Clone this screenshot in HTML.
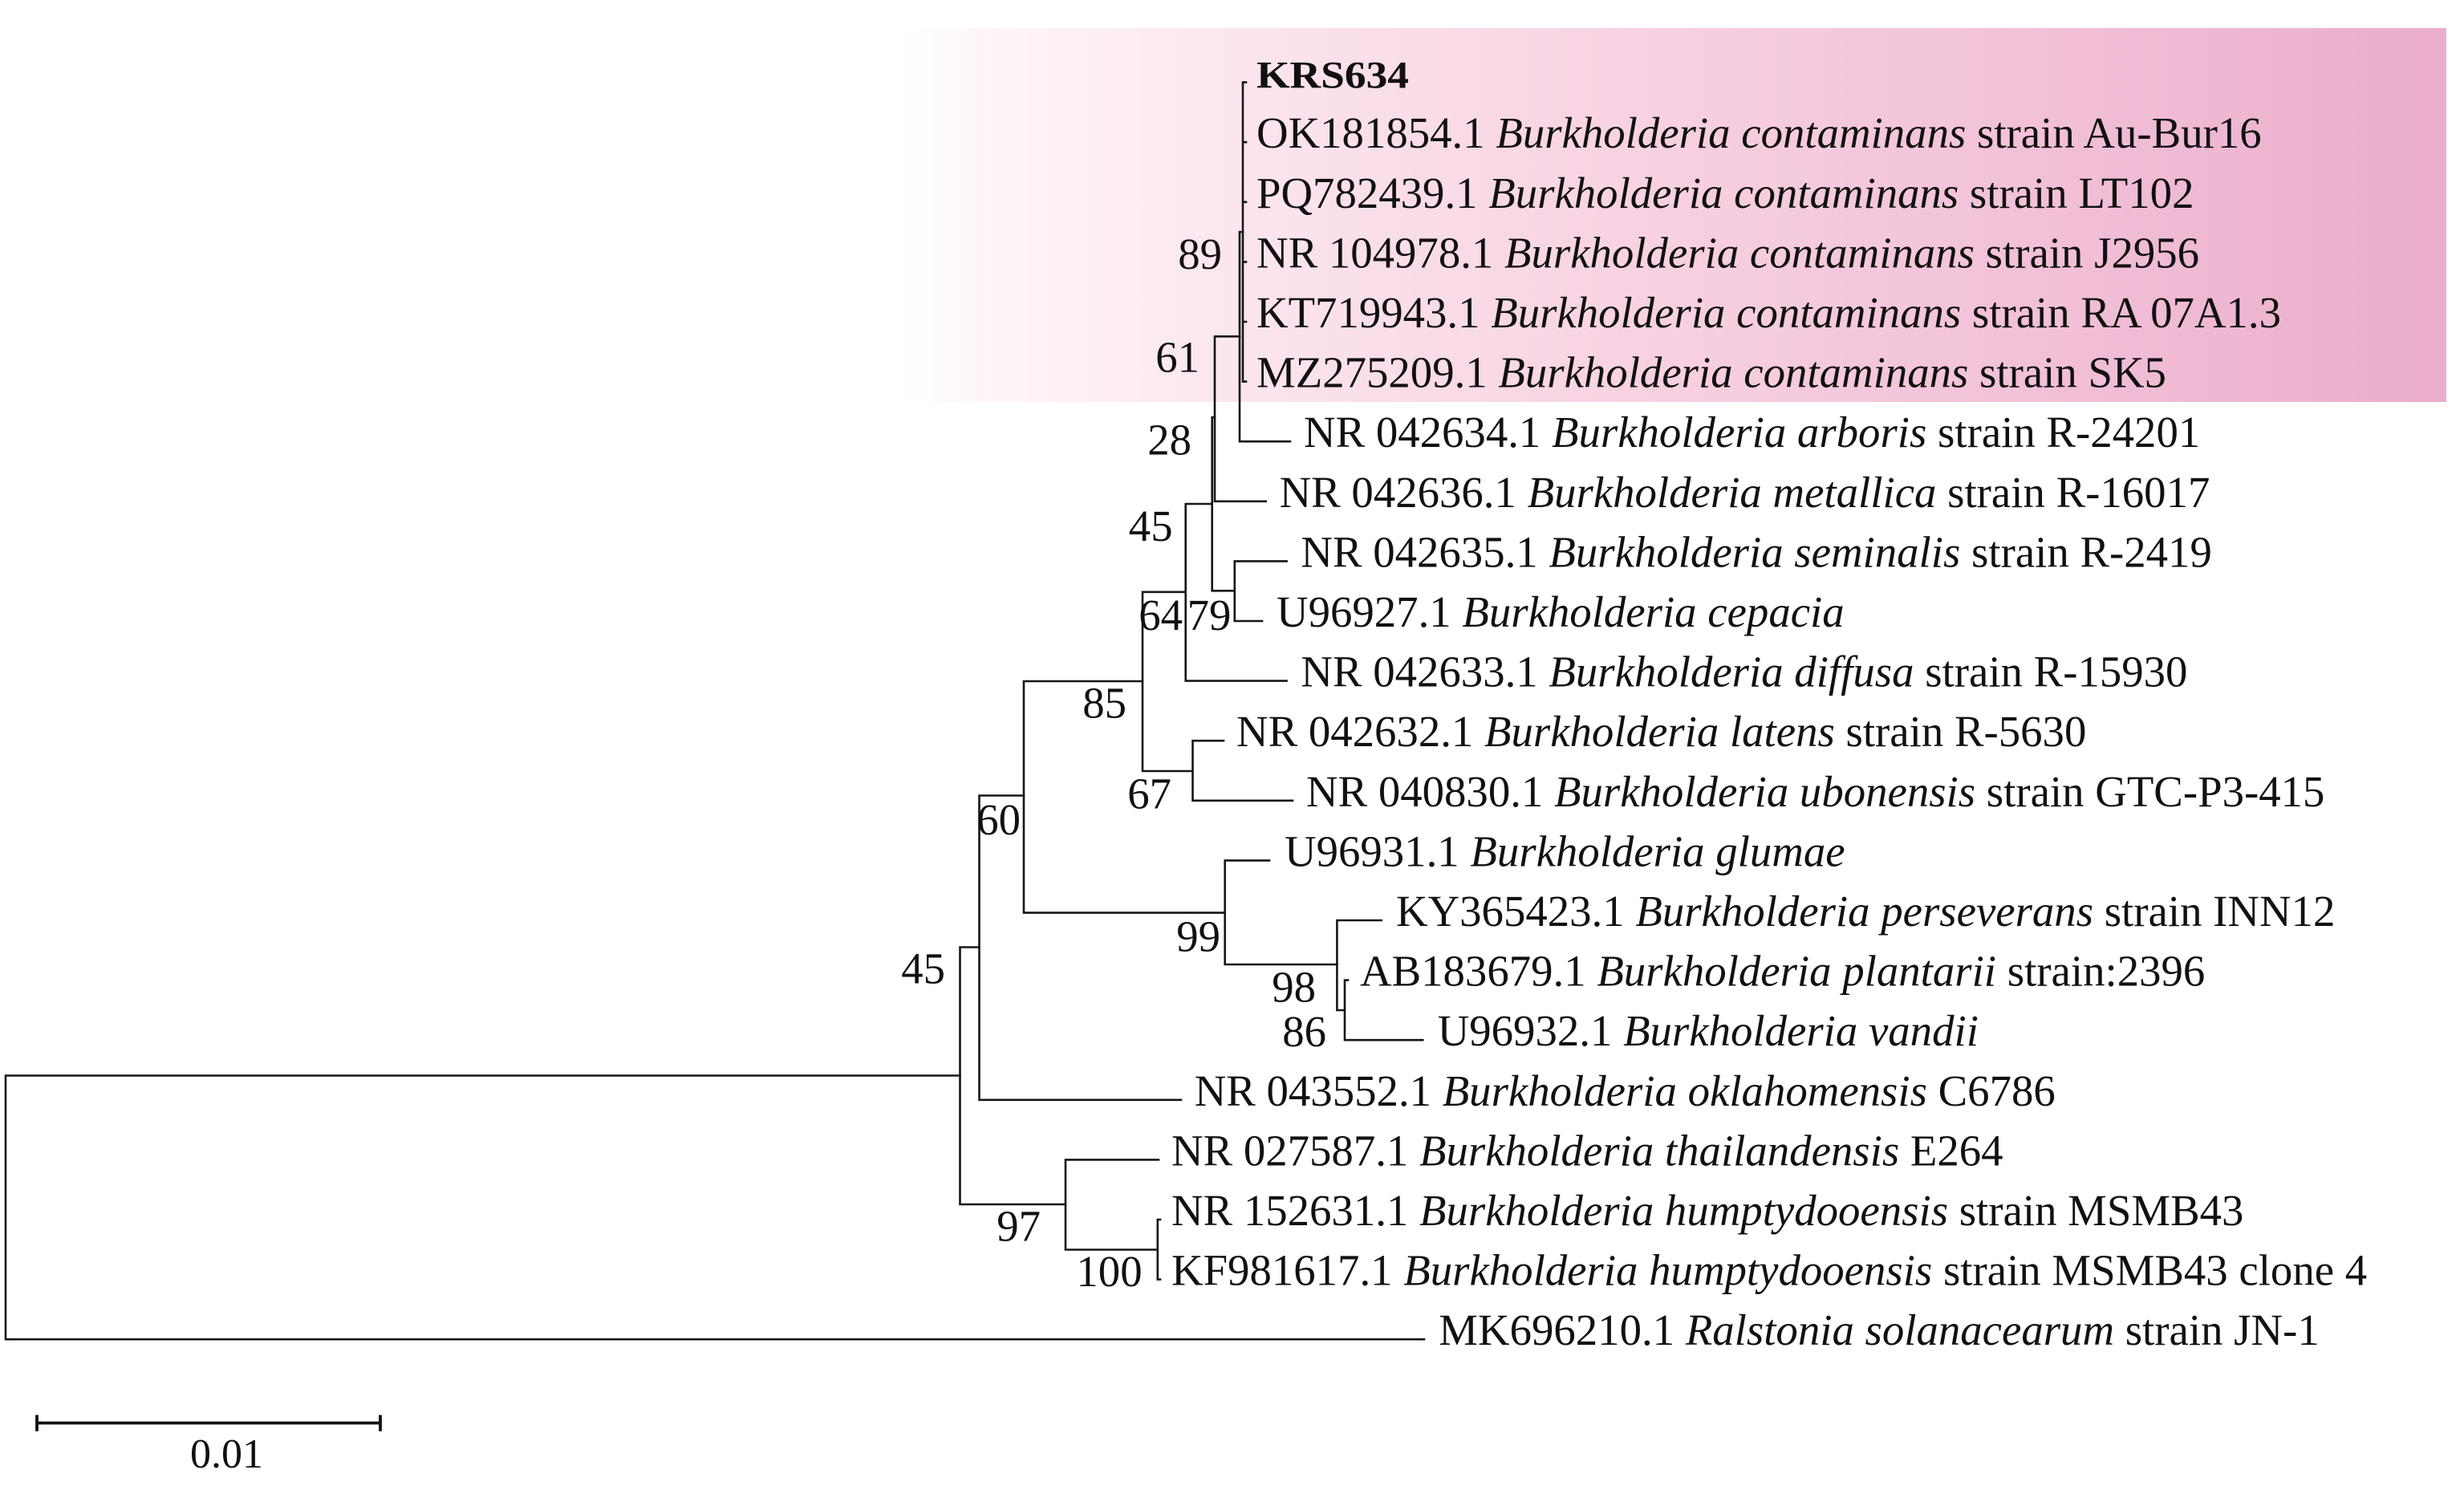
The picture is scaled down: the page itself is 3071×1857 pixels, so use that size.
<!DOCTYPE html>
<html>
<head>
<meta charset="utf-8">
<style>
html,body{margin:0;padding:0;background:#fff;}
svg{display:block;}
text{font-family:"Liberation Serif","Times New Roman",serif;fill:#111;}
.l{font-size:54.8px;}
.b{font-size:54.8px;text-anchor:end;}
.i{font-style:italic;}
</style>
</head>
<body>
<svg width="3071" height="1857" viewBox="0 0 3071 1857" xmlns="http://www.w3.org/2000/svg">
<defs>
<linearGradient id="pg" gradientUnits="userSpaceOnUse" x1="1120" y1="0" x2="3049" y2="0">
<stop offset="0" stop-color="#ffffff"/>
<stop offset="0.06" stop-color="#fef5f8"/>
<stop offset="0.22" stop-color="#fce5ee"/>
<stop offset="0.5" stop-color="#f7d0e1"/>
<stop offset="0.8" stop-color="#f0bcd5"/>
<stop offset="1" stop-color="#eaadcb"/>
</linearGradient>
</defs>
<rect x="1120" y="35" width="1929" height="466" fill="url(#pg)"/>

<g stroke="#161616" stroke-width="2.6" fill="none" stroke-linecap="square">
<path d="M7 1340.5V1669.2M7 1340.5H1196.5M7 1669.2H1775"/>
<path d="M1196.5 1180.5V1501M1196.5 1180.5H1220.5M1196.5 1501H1328"/>
<path d="M1220.5 991.5V1370.8M1220.5 1370.8H1472M1220.5 991.5H1276"/>
<path d="M1276 849V1137.6M1276 849H1424M1276 1137.6H1526.7"/>
<path d="M1424 737.8V961M1424 737.8H1477.7M1424 961H1486.5"/>
<path d="M1486.5 923.2V997.8M1486.5 923.2H1525M1486.5 997.8H1611"/>
<path d="M1477.7 628V848.6M1477.7 848.6H1603.6M1477.7 628H1510.7"/>
<path d="M1510.7 520V736.3M1510.7 520H1514M1510.7 736.3H1538.8"/>
<path d="M1538.8 699.4V774M1538.8 699.4H1603.6M1538.8 774H1573"/>
<path d="M1514 419.3V624.8M1514 624.8H1577.7M1514 419.3H1545"/>
<path d="M1545 289V550.2M1545 550.2H1608M1545 289H1549"/>
<path d="M1549 102.6V475.6M1549 102.6H1553M1549 177.2H1553M1549 251.8H1553M1549 326.4H1553M1549 401H1553M1549 475.6H1553"/>
<path d="M1526.7 1072.4V1202M1526.7 1072.4H1582M1526.7 1202H1666.4"/>
<path d="M1666.4 1147V1259M1666.4 1147H1721.7M1666.4 1259H1676"/>
<path d="M1676 1221.6V1296.2M1676 1221.6H1680M1676 1296.2H1773.3"/>
<path d="M1328 1445.4V1557.5M1328 1445.4H1444M1328 1557.5H1442.8"/>
<path d="M1442.8 1520V1594.6M1442.8 1520H1446M1442.8 1594.6H1446"/>
</g>

<g stroke="#111" stroke-width="3.8" fill="none">
<path d="M46 1773.5H474M46 1763.5V1783.8M474 1763.5V1783.8"/>
</g>
<text x="237" y="1829" style="font-size:52px">0.01</text>

<text x="1566" y="109.3" style="font-size:48px;font-weight:bold" textLength="190" lengthAdjust="spacingAndGlyphs">KRS634</text>
<text class="l" x="1566" y="184.2">OK181854.1 <tspan class="i">Burkholderia contaminans</tspan> strain Au-Bur16</text>
<text class="l" x="1566" y="258.8">PQ782439.1 <tspan class="i">Burkholderia contaminans</tspan> strain LT102</text>
<text class="l" x="1566" y="333.4">NR 104978.1 <tspan class="i">Burkholderia contaminans</tspan> strain J2956</text>
<text class="l" x="1566" y="408">KT719943.1 <tspan class="i">Burkholderia contaminans</tspan> strain RA 07A1.3</text>
<text class="l" x="1566" y="482.6">MZ275209.1 <tspan class="i">Burkholderia contaminans</tspan> strain SK5</text>
<text class="l" x="1625" y="557.2">NR 042634.1 <tspan class="i">Burkholderia arboris</tspan> strain R-24201</text>
<text class="l" x="1594.6" y="631.8">NR 042636.1 <tspan class="i">Burkholderia metallica</tspan> strain R-16017</text>
<text class="l" x="1621.4" y="706.4">NR 042635.1 <tspan class="i">Burkholderia seminalis</tspan> strain R-2419</text>
<text class="l" x="1591" y="781">U96927.1 <tspan class="i">Burkholderia cepacia</tspan></text>
<text class="l" x="1621.4" y="855.6">NR 042633.1 <tspan class="i">Burkholderia diffusa</tspan> strain R-15930</text>
<text class="l" x="1541" y="930.2">NR 042632.1 <tspan class="i">Burkholderia latens</tspan> strain R-5630</text>
<text class="l" x="1628" y="1004.8">NR 040830.1 <tspan class="i">Burkholderia ubonensis</tspan> strain GTC-P3-415</text>
<text class="l" x="1601" y="1079.4">U96931.1 <tspan class="i">Burkholderia glumae</tspan></text>
<text class="l" x="1740" y="1154">KY365423.1 <tspan class="i">Burkholderia perseverans</tspan> strain INN12</text>
<text class="l" x="1695" y="1228.6">AB183679.1 <tspan class="i">Burkholderia plantarii</tspan> strain:2396</text>
<text class="l" x="1791.7" y="1303.2">U96932.1 <tspan class="i">Burkholderia vandii</tspan></text>
<text class="l" x="1488.7" y="1377.8">NR 043552.1 <tspan class="i">Burkholderia oklahomensis</tspan> C6786</text>
<text class="l" x="1460" y="1452.4">NR 027587.1 <tspan class="i">Burkholderia thailandensis</tspan> E264</text>
<text class="l" x="1460" y="1527">NR 152631.1 <tspan class="i">Burkholderia humptydooensis</tspan> strain MSMB43</text>
<text class="l" x="1460" y="1601.6">KF981617.1 <tspan class="i">Burkholderia humptydooensis</tspan> strain MSMB43 clone 4</text>
<text class="l" x="1793.3" y="1676.2">MK696210.1 <tspan class="i">Ralstonia solanacearum</tspan> strain JN-1</text>

<text class="b" x="1523" y="335">89</text>
<text class="b" x="1495" y="463.3">61</text>
<text class="b" x="1485" y="566.7">28</text>
<text class="b" x="1461.6" y="674">45</text>
<text class="b" x="1474" y="785">64</text>
<text class="b" x="1534.4" y="785">79</text>
<text class="b" x="1404" y="894.6">85</text>
<text class="b" x="1460" y="1007.5">67</text>
<text class="b" x="1272" y="1040">60</text>
<text class="b" x="1521" y="1185.5">99</text>
<text class="b" x="1640" y="1248.6">98</text>
<text class="b" x="1653" y="1304">86</text>
<text class="b" x="1178" y="1225.6">45</text>
<text class="b" x="1297" y="1546.7">97</text>
<text class="b" x="1423.6" y="1603">100</text>
</svg>
</body>
</html>
